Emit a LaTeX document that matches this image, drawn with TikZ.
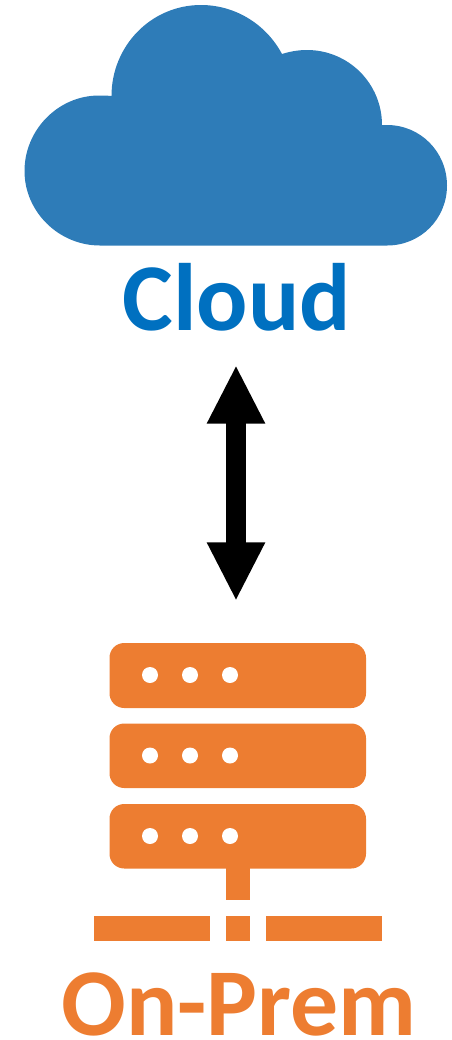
\documentclass[tikz,border=0pt]{standalone}
\usepackage{fontspec}
\setmainfont{Carlito}
\usetikzlibrary{arrows.meta}
\definecolor{cloudblue}{HTML}{2E7CB8}
\definecolor{textblue}{HTML}{0070C0}
\definecolor{onpremorange}{HTML}{ED7D31}
\tikzset{
  px/.style={x=0.75pt,y=-0.75pt},
  lbl/.style={anchor=base,inner sep=0pt,font=\fontsize{71.8pt}{72pt}\selectfont\bfseries},
  rack/.style={fill=onpremorange,rounded corners=11pt},
  dot/.style={fill=white},
  linkarrow/.style={line width=15pt,{Triangle[length=44pt,width=40.5pt]}-{Triangle[length=44pt,width=40.5pt]}}
}
\begin{document}
\begin{tikzpicture}[px]
\useasboundingbox (0,0) rectangle (452,1040);
% cloud
\fill[cloudblue] (100,245.5)
  .. controls (59,245.5) and (24.5,212) .. (24.5,171)
  .. controls (24.5,130) and (58,95.5) .. (99,95.5)
  .. controls (103,95.5) and (107.5,95.6) .. (111.5,96)
  .. controls (111.5,46) and (151,5) .. (201,5)
  .. controls (235,5) and (266,24) .. (282,54)
  .. controls (290,51.5) and (298,50) .. (307,50)
  .. controls (348.5,50) and (382,83.5) .. (382,125)
  -- (387,125)
  .. controls (420.5,125) and (447,152) .. (447,185.5)
  .. controls (447,219) and (420.5,245.5) .. (387,245.5)
  -- cycle;
\node[lbl,text=textblue] (cloudlabel) at (237,330.5) {Cloud};
% arrow
\coordinate (linktop) at (236,365);
\coordinate (linkbottom) at (236,601);
\draw[linkarrow] (linktop) -- (linkbottom);
% server
\foreach \t/\b/\d in {643/708/675,723.5/788/755.5,804/868.5/836}{
  \fill[rack] (109.5,\t) rectangle (366,\b);
  \foreach \x in {150,190,230} \fill[dot] (\x,\d) circle[radius=6pt];
}
\fill[onpremorange] (225.5,868) rectangle (250,900);
\fill[onpremorange] (93.5,916) rectangle (210,941);
\fill[onpremorange] (225.5,916) rectangle (250,941);
\fill[onpremorange] (266,916) rectangle (382,941);
\node[lbl,text=onpremorange] (premlabel) at (239,1035.5) {On-Prem};
\end{tikzpicture}
\end{document}
